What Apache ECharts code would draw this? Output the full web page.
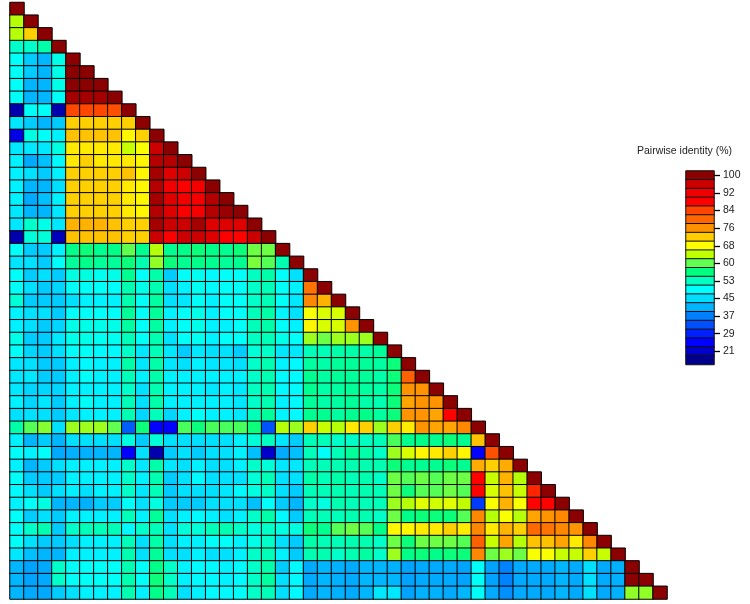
<!DOCTYPE html>
<html><head><meta charset="utf-8">
<style>html,body{margin:0;padding:0;background:#fff}#c{width:750px;height:604px}</style>
<script src="https://cdn.jsdelivr.net/npm/echarts@6/dist/echarts.min.js"></script>
</head><body><div id="c"></div><script>
const r00=[100];
const r01=[64,100];
const r02=[64,72,100];
const r03=[52,52,54,100];
const r04=[49,43,41,50,100];
const r05=[49,43,41,50,100,100];
const r06=[49,41,41,50,100,100,100];
const r07=[49,41,41,49,98.5,98.5,98.5,100];
const r08=[19,49,49,19,84,84,84,83,100];
const r09=[46,43,41,43,72,72,72,72,72,100];
const r10=[23,50.5,49,47,73,73,73,73,69,72,100];
const r11=[46,46,46,50.5,70,70,70,70,65,68,96,100];
const r12=[47,40,42,48,70,72,70,70,70,69,97.5,97.5,100];
const r13=[47,45,43,47,72,72,72,72,73,69,98.5,94,96,100];
const r14=[47,41,41,45,72,72,72,72,70,69,97.5,92,89,91,100];
const r15=[47,40,42,47,72,72,72,72,70,69,98.5,94,92,91,97.5,100];
const r16=[46,41,41,46,72,72,72,72,70,69,97.5,94,90,91,97.5,99,100];
const r17=[46,52,50,46,74,74,74,73,72,72,98.5,96,96,98.5,94,94,94,100];
const r18=[19,51,51,20,73,73,73,73,72,72,96,89,96,96,94,89,88,96,100];
const r19=[49,43,43,47,56,57,55.5,56,60.5,55.5,64,55.5,56,57,56,55.5,57,61,61,100];
const r20=[45.5,45,43,49,55,56,55,55,57,53.5,62.5,57,55.5,56,55.5,55,55.5,61.5,60,53.5,100];
const r21=[49,43,45,43,50.5,50.5,49.5,50,55.5,49,54,43,49,49.5,48,49,49,52.5,54,49,45,100];
const r22=[49,45,43,44,49,49,49,49,53.5,50,53.5,45,47,49.5,48,49,49,52,53,49,47,79,100];
const r23=[51,43,43,43,45,47,47,47,53.5,49,54.5,45,46,49,47,49,49,52,53,49,46,77,74,100];
const r24=[47,45,45,43,49,49,49,49,55,49,55,47,49,50,47,49,49,53,54,47.5,45,68,66,66,100];
const r25=[47,45,43,44,50,50,50,50,54.5,49,54.5,47,49,50,47,47,49,53,54,49,47,69,66,66,76,100];
const r26=[50,43,43,46,50,50,49.5,49.5,53,49,53.5,45,49,49.5,47,49,49,52.5,53,50,49,63,61,63,63,63,100];
const r27=[49,44,43,45,49,49,48,48,52,46,53,46,43,46,45,45,43,51,52,46,46,53,53,54,54,54,55,100];
const r28=[46,45,43,43,47,48,47,47,54,46,54,46,45,47,46,46,45,52,53.5,47,48,54.5,54,55,55,55,54.5,57,100];
const r29=[46,46,43,43,47,49,47,47,53,47,54,47,47,47,47,47,47,52,53.5,48,48,55.5,54.5,55,55,55,54,57,81,100];
const r30=[46,44,44,44,47,47,47,47,52,45,53.5,47,47,47,46,47,46,52.5,53.5,48,48,55.5,54,54.5,55,54.5,54,57,76,76,100];
const r31=[47,44,46,43,47,49,47,47,53,45,54,47,47,47,47,47,46,52,53.5,47,48,55,54,54.5,55,54,53.5,57,75,76,76,100];
const r32=[45,45,45,43,46,47,47,47,53.5,44,53,44,47,49,47,47,46,53,55,47.5,48,55.5,55.5,54.5,55.5,56,54.5,57,76,76,75,88,100];
const r33=[54,60,62,45,63,63,63,60.5,34,57,25,25,59.5,57,59.5,59.5,59.5,57,33,64,63,72,65,64,70,72,63,72,70,76,75,75,77,100];
const r34=[47,41,43,41,45,45,45,45,50.5,43,51,45,45,45,45,45,47,51,52.5,46,43,53,53,52,52,52.5,53,59.5,55.5,56,55.5,57,55.5,73,100];
const r35=[49,47,49,40,40.5,40.5,41,41,25,45,19,43,45,43,45,45,47,42,21,40,42,53,49,53,55,54,52,63,66,69,70,72,69,25,83,100];
const r36=[47,41,43,45,47,47,47,47,52,46,54,46,45,47,45,45,47,52,51,46,46,53,53,53.5,53.5,53.5,53.5,57,55.5,55.5,55.5,57,55.5,74.5,72,74.5,100];
const r37=[49,43,43,43,47,47,47,47,52,47,53.5,43,45,48,45,45,45,51,53,45,45,54,53,54,53,53.5,52,61,60,61,60,61,61,88,65,74,64,100];
const r38=[48,45,43,45,47,45,47,47,52,46,53,43,45,45,45,46,48,50.5,52,45,43,53,53,53.5,53,53.5,53,61,57,60,60,61,60,88,66,73,65,86,100];
const r39=[47,49,50.5,41,41,40.5,43,43,49,45,50.5,43,43,43,45,45,45,42,49,43,41,52,50.5,53.5,53,53,53,63,64,66.5,65.5,66.5,64.5,31,68,74,68,88,88,100];
const r40=[49,43,45,43,47,47,47,47,53,47,55,45,47,48,47,45,47,52,54,48,43,53,53,53,53.5,53.5,52,61,56,57,57,57,60,77,64,68,64,75,76,77,100];
const r41=[49,52,53.5,43,52,53,53,53,48,52,53,45,51,51,53,53.5,52,50.5,52,50.5,50.5,57,55.5,60,61,60,56,69,69,70,70,72,70,77,70,74,72,80,79,77,76,100];
const r42=[49,45,43,43,45,47,47,47,53,45,54,45,47,47,49,49,47,50,52,45,43,54,53,53,53.5,53.5,52,61,57,61,61,61,60,81,65,75,64,73,73,75,70,77,100];
const r43=[46,42,41,41,47,47,47,47,53.5,45,55,45,45,47,45,45,47,52,53,47,43,53.5,53.5,52,53.5,54.5,52,63,56,57,56,57,57,77,61,63,61,68,68,65,65,72,65,100];
const r44=[41,39.5,40,52,49,49,49,49,53.5,49,56,52,47,48,48,47,48,52,54,43,48,40,41,40.5,40,41,41,40.5,39.5,40,40,40,39.5,49,39.5,37,40,40,40,41,40,45,40,40.5,100];
const r45=[41,39.5,40,52,49,49,49,49,53.5,49,57,52,47,48,48,47,48,52,54.5,45,48,40,41,40.5,40,41,41,41,39.5,40,40,40,39.5,49,39.5,37,40,40,40,41,40,45,40,40.5,100,100];
const r46=[41,40,40,43,45,47,47,47,53.5,47,56,53,45,47,48,48,49,52,53,45,48,40,41,40.5,40,41,46,46,39.5,40.5,40.5,40,41,49,40,38,40,40,40,41,40,45,40,40.5,62.5,62.5,100];
const rows=[r00,r01,r02,r03,r04,r05,r06,r07,r08,r09,r10,r11,r12,r13,r14,r15,r16,r17,r18,r19,r20,r21,r22,r23,r24,r25,r26,r27,r28,r29,r30,r31,r32,r33,r34,r35,r36,r37,r38,r39,r40,r41,r42,r43,r44,r45,r46];
const legendLevels=[100,96.05,92.1,88.14,84.19,80.24,76.29,72.33,68.38,64.43,60.48,56.52,52.57,48.62,44.67,40.71,36.76,32.81,28.86,24.9,20.95,17];
const legendLabels=['100','','92','','84','','76','','68','','60','','53','','45','','37','','29','','21',''];
const palette=['#00008b','#0000cc','#0000ff','#0020ff','#0050ff','#0080ff','#00b4ff','#00ddff','#00ffff','#00ffc0','#00ff80','#60ff50','#bfff00','#ffff00','#ffcc00','#ff9000','#ff6600','#ff4500','#ff0000','#f00000','#cc0000','#8b0000'];

const cells=[];
rows.forEach((row,r)=>row.forEach((v,c)=>cells.push([c,r,v])));
const idx=rows.map((_,i)=>String(i));
const chart=echarts.init(document.getElementById('c'),null,{renderer:'canvas'});
chart.setOption({
  animation:false,
  backgroundColor:'#fff',
  title:{text:'Pairwise identity (%)',left:637,top:146,padding:0,textStyle:{fontFamily:'Liberation Sans',fontSize:10.5,fontWeight:'normal',color:'#222'}},
  grid:[
    {left:10,top:2.5,width:657,height:596.5},
    {left:686,top:171,width:28,height:193.5}
  ],
  xAxis:[
    {type:'category',data:idx,gridIndex:0,show:false},
    {type:'category',data:['x'],gridIndex:1,show:false}
  ],
  yAxis:[
    {type:'category',data:idx,gridIndex:0,inverse:true,show:false},
    {type:'category',data:legendLabels,gridIndex:1,inverse:true,position:'right',
     axisLine:{show:false},
     axisTick:{show:true,alignWithLabel:true,interval:(i)=>i%2===0,length:6,lineStyle:{color:'#000',width:1.3}},
     axisLabel:{interval:0,margin:9,padding:[3,0,0,0],fontFamily:'Liberation Sans',fontSize:10.5,color:'#222'}}
  ],
  visualMap:{show:false,type:'continuous',min:17,max:100,dimension:2,seriesIndex:[0,1],inRange:{color:palette}},
  series:[
    {type:'heatmap',xAxisIndex:0,yAxisIndex:0,data:cells,progressive:0,
     itemStyle:{borderColor:'#000',borderWidth:1},emphasis:{disabled:true}},
    {type:'heatmap',xAxisIndex:1,yAxisIndex:1,data:legendLevels.map((v,i)=>[0,i,v]),
     itemStyle:{borderColor:'#111',borderWidth:1},emphasis:{disabled:true}}
  ]
});
</script></body></html>
